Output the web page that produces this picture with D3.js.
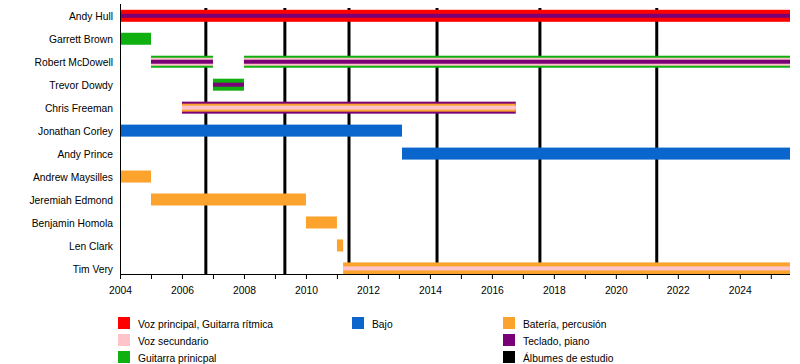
<!DOCTYPE html>
<html><head><meta charset="utf-8">
<script src="https://cdn.jsdelivr.net/npm/d3@7"></script>
<style>
body{margin:0;background:#fff;}
text{font-family:"Liberation Sans",Arial,sans-serif;font-size:10.3px;fill:#000;}
</style></head>
<body><svg id="c" width="800" height="364"></svg>
<script>
// ---- data ----
const members = ["Andy Hull","Garrett Brown","Robert McDowell","Trevor Dowdy","Chris Freeman","Jonathan Corley","Andy Prince","Andrew Maysilles","Jeremiah Edmond","Benjamin Homola","Len Clark","Tim Very"];
const periodMember = ["Andy Hull","Garrett Brown","Robert McDowell","Robert McDowell","Trevor Dowdy","Chris Freeman","Jonathan Corley","Andy Prince","Andrew Maysilles","Jeremiah Edmond","Benjamin Homola","Len Clark","Tim Very"];
const periodStart = [2004.0,2004.0,2005.0,2008.0,2007.0,2006.0,2004.0,2013.1,2004.0,2005.0,2010.0,2011.0,2011.2];
const periodEnd   = [2025.62,2005.0,2007.0,2025.62,2008.0,2016.77,2013.1,2025.62,2005.0,2010.0,2011.0,2011.2,2025.62];
const periodRoles = [["lead","keys"],["guitar"],["guitar","bvocals","keys"],["guitar","bvocals","keys"],["guitar","keys"],["keys","drums","bvocals"],["bass"],["bass"],["drums"],["drums"],["drums"],["drums"],["drums","bvocals"]];
const albums = [2006.77,2009.32,2011.39,2014.23,2017.55,2021.32];
const majorTicks = [2004,2006,2008,2010,2012,2014,2016,2018,2020,2022,2024];
const minorTicks = [2005,2007,2009,2011,2013,2015,2017,2019,2021,2023,2025];
const legendKeys = ["lead","bvocals","guitar","bass","drums","keys","album"];
const legendLabels = ["Voz principal, Guitarra rítmica","Voz secundario","Guitarra prinicpal","Bajo","Batería, percusión","Teclado, piano","Álbumes de estudio"];

// ---- styles ----
const roleColor = {lead:"#ff0000",bvocals:"#ffc4ca",guitar:"#10b010",bass:"#0a66cc",drums:"#fba32c",keys:"#7a0078",album:"#000000"};
const layerWidths = {1:[12],2:[12,4],3:[12,8,4]};

const svg = d3.select("#c");
const x = d3.scaleLinear().domain([2004,2025.62]).range([120,790]);
const y = d3.scalePoint().domain(members).range([15.8,268.4]);
const axisY = 274;

// album lines
svg.append("g").selectAll("line").data(albums).join("line")
  .attr("x1",d=>x(d)).attr("x2",d=>x(d)).attr("y1",8).attr("y2",axisY)
  .attr("stroke","#000").attr("stroke-width",3);

// bars
const periods = periodMember.map((m,i)=>({m,s:periodStart[i],e:periodEnd[i],roles:periodRoles[i]}));
const gb = svg.append("g");
periods.forEach(p=>{
  const ws = layerWidths[p.roles.length];
  p.roles.forEach((r,j)=>{
    gb.append("rect").attr("x",x(p.s)).attr("width",x(p.e)-x(p.s))
      .attr("y",y(p.m)-ws[j]/2).attr("height",ws[j]).attr("fill",roleColor[r]);
  });
});

// left axis line
svg.append("line").attr("x1",120.5).attr("x2",120.5).attr("y1",4).attr("y2",axisY)
  .attr("stroke","#000").attr("stroke-width",1);

// bottom axis
const ax = svg.append("g").attr("transform",`translate(0,${axisY})`)
  .call(d3.axisBottom(x).tickValues(majorTicks).tickFormat(d3.format("d")).tickSize(5).tickPadding(8));
ax.select(".domain").attr("d",`M120,0.5H790`);
ax.selectAll("text").style("font-family","'Liberation Sans',Arial,sans-serif").style("font-size","10.3px");
const axm = svg.append("g").attr("transform",`translate(0,${axisY})`)
  .call(d3.axisBottom(x).tickValues(minorTicks).tickFormat("").tickSize(5));
axm.select(".domain").remove();

// names
svg.append("g").selectAll("text").data(members).join("text")
  .attr("x",113).attr("y",d=>y(d)).attr("dy","0.45em").attr("text-anchor","end").text(d=>d);

// legend
const legCol = [0,0,0,1,2,2,2];
const legRow = [0,1,2,0,0,1,2];
const colX = [118,352,503];
const lg = svg.append("g");
legendKeys.forEach((k,i)=>{
  const gx = colX[legCol[i]], gy = 317 + legRow[i]*17;
  lg.append("rect").attr("x",gx).attr("y",gy).attr("width",12).attr("height",12).attr("fill",roleColor[k]);
  lg.append("text").attr("x",gx+20).attr("y",gy+7).attr("dy","0.35em").text(legendLabels[i]);
});
</script></body></html>
